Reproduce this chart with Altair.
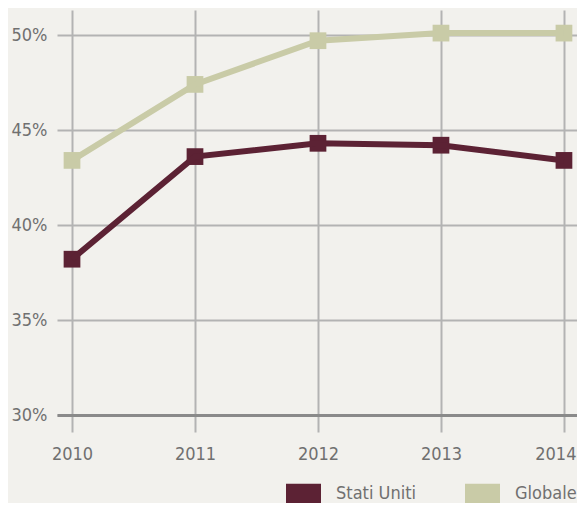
import altair as alt
import pandas as pd

years = [2010, 2011, 2012, 2013, 2014]
stati_uniti = [38.2, 43.6, 44.3, 44.2, 43.4]
globale = [43.4, 47.4, 49.7, 50.1, 50.1]
series_names = ["Stati Uniti", "Globale"]
series_colors = ["#5c2234", "#c9cba7"]
y_ticks = [30, 35, 40, 45, 50]

rows = []
for name, vals in zip(series_names, [stati_uniti, globale]):
    for yr, v in zip(years, vals):
        rows.append({"anno": yr, "serie": name, "valore": v})
df = pd.DataFrame(rows)

FONT = "DejaVu Sans Condensed, sans-serif"
GRID = "#b3b3b3"
TEXT = "#707070"

x = alt.X(
    "anno:Q",
    scale=alt.Scale(domain=[2009.878, 2014.106], nice=False, zero=False),
    axis=alt.Axis(
        values=years, format="d", title=None, grid=True, gridColor=GRID, gridWidth=2,
        tickSize=17, tickColor=GRID, tickWidth=2, domainColor="#8a8a8a", domainWidth=3,
        labelFont=FONT, labelFontSize=18, labelColor=TEXT, labelPadding=13,
        labelFlush=14, labelFlushOffset=12,
    ),
)
y = alt.Y(
    "valore:Q",
    scale=alt.Scale(domain=[30, 51.316], nice=False, zero=False),
    axis=alt.Axis(
        values=y_ticks, labelExpr="datum.value + '%'", title=None, grid=True,
        gridColor=GRID, gridWidth=2, ticks=False, domain=False,
        labelFont=FONT, labelFontSize=18, labelColor=TEXT, labelPadding=10,
    ),
)
color_scale = alt.Scale(domain=series_names, range=series_colors)
legend = alt.Legend(
    title=None, orient="none", legendX=229, legendY=466, direction="horizontal",
    symbolType="M-1,-0.57H1V0.57H-1Z", symbolSize=1225, symbolStrokeWidth=0,
    symbolOpacity=1, labelFont=FONT, labelFontSize=18, labelColor=TEXT,
    labelOffset=15, columnPadding=48, padding=0,
)
color = alt.Color("serie:N", scale=color_scale, sort=series_names, legend=legend)

points = alt.Chart(df).mark_square(size=280, opacity=1, filled=True).encode(
    x=x, y=y, color=color,
)
lines = alt.Chart(df).mark_line(strokeWidth=6).encode(
    x=x, y=y, color=color,
)

chart = alt.layer(points, lines).properties(
    width=520, height=405,
    autosize=alt.AutoSizeParams(type="none"),
    padding={"left": 49, "top": 2, "right": 0, "bottom": 88},
    background="#f2f1ed",
).configure_view(stroke=None)

chart.save("out.html", embed_options={"renderer": "svg", "actions": False})
